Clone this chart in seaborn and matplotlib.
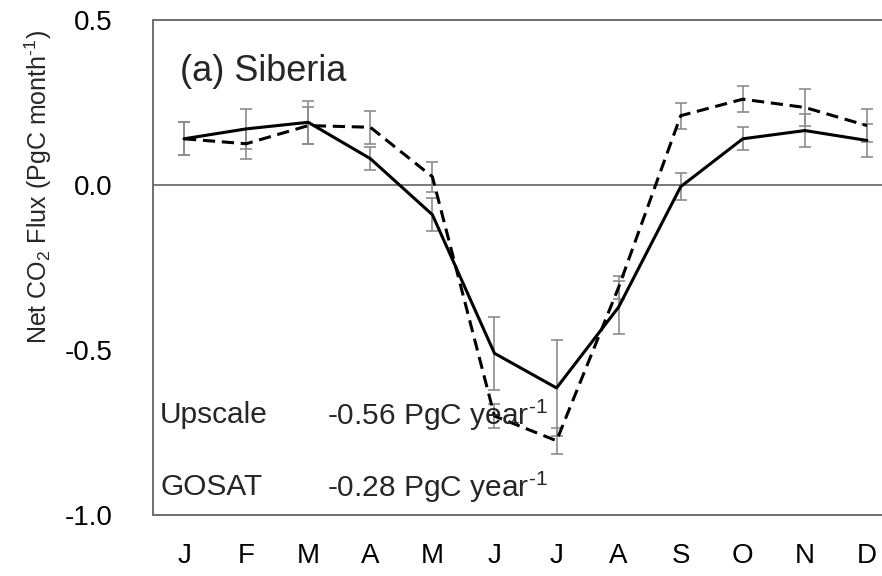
import numpy as np
import pandas as pd
import matplotlib
matplotlib.use("Agg")
import matplotlib.pyplot as plt
import seaborn as sns

# monthly net CO2 flux, PgC month-1
months = ["J", "F", "M", "A", "M", "J", "J", "A", "S", "O", "N", "D"]
upscale = [0.14, 0.17, 0.19, 0.08, -0.09, -0.51, -0.615, -0.37, -0.005, 0.14, 0.165, 0.135]
upscale_err = [0.05, 0.06, 0.065, 0.035, 0.05, 0.11, 0.145, 0.08, 0.04, 0.035, 0.05, 0.05]
gosat = [0.14, 0.125, 0.18, 0.175, 0.025, -0.70, -0.775, -0.31, 0.21, 0.26, 0.235, 0.18]
gosat_err = [0.05, 0.045, 0.055, 0.05, 0.045, 0.035, 0.04, 0.035, 0.04, 0.04, 0.055, 0.05]
annual_labels = ["Upscale", "GOSAT"]
annual_values = [r"-0.56 PgC year$^{\text{-}1}$", r"-0.28 PgC year$^{\text{-}1}$"]
yticks = [0.5, 0.0, -0.5, -1.0]
ytick_labels = ["0.5", "0.0", "-0.5", "-1.0"]

sns.set_style("white")
plt.rcParams["font.family"] = ["Liberation Sans", "DejaVu Sans"]
plt.rcParams["mathtext.fontset"] = "custom"
plt.rcParams["mathtext.rm"] = "Liberation Sans"
plt.rcParams["mathtext.it"] = "Liberation Sans:italic"
plt.rcParams["mathtext.default"] = "regular"
plt.rcParams["axes.unicode_minus"] = False

x = np.arange(len(months))
df = pd.DataFrame({
    "month": np.concatenate([x, x]),
    "flux": upscale + gosat,
    "source": ["Upscale"] * 12 + ["GOSAT"] * 12,
})

fig = plt.figure(figsize=(8.82, 5.76), dpi=100)
ax = fig.add_axes([153 / 882, 1 - 515 / 576, 745 / 882, 495 / 576])

grey = "#8c8c8c"
ax.errorbar(x, upscale, yerr=upscale_err, fmt="none", ecolor=grey, elinewidth=1.2,
            capsize=4, capthick=1.2, zorder=2)
ax.errorbar(x, gosat, yerr=gosat_err, fmt="none", ecolor=grey, elinewidth=1.2,
            capsize=4, capthick=1.2, zorder=2)

sns.lineplot(data=df, x="month", y="flux", style="source", color="black",
             dashes={"Upscale": "", "GOSAT": (4, 2.2)}, linewidth=2.2,
             legend=False, ax=ax, zorder=3)

ax.axhline(0, color="#6e6e6e", lw=1.3, zorder=1)

ax.set_xlim(-0.5, 11.5)
ax.set_ylim(-1.0, 0.5)
ax.set_xticks(x)
ax.set_xticklabels(months)
ax.set_yticks(yticks)
ax.set_yticklabels(ytick_labels)
ax.tick_params(axis="both", length=0, labelsize=20, colors="black")
ax.tick_params(axis="y", pad=29)
ax.tick_params(axis="x", pad=20)
ax.set_xlabel("")
ax.set_ylabel("")

for s in ax.spines.values():
    s.set_color("#6e6e6e")
    s.set_linewidth(1.4)

fig.text(38 / 882, 1 - 187 / 576, r"Net CO$_2$ Flux (PgC month$^{\text{-}1}$)", rotation=90,
         ha="center", va="center", fontsize=18)

ax.text(0.036, 0.895, "(a) Siberia", transform=ax.transAxes, ha="left", va="center",
        fontsize=26)
for yy, lab, val in zip([0.202, 0.0566], annual_labels, annual_values):
    ax.text(0.0094, yy, lab, transform=ax.transAxes, ha="left", va="center", fontsize=21.5)
    ax.text(0.2336, yy, val, transform=ax.transAxes, ha="left", va="center", fontsize=21.5)

fig.savefig("out.png", dpi=100)
